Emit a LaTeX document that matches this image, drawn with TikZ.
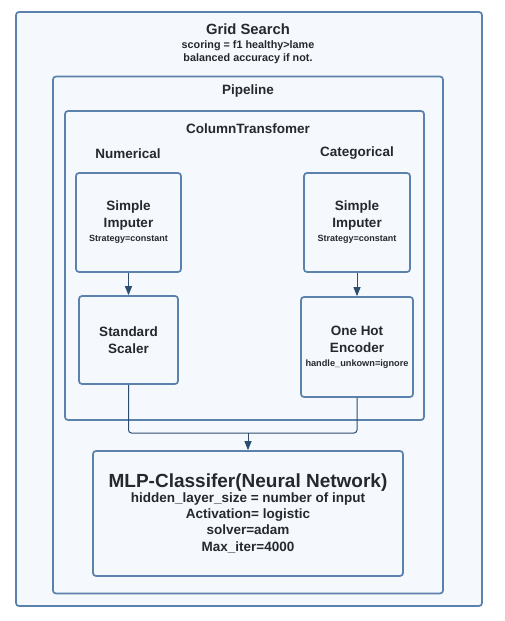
\documentclass[tikz,border=0pt]{standalone}
\usepackage{fontspec}
\setmainfont{Liberation Sans}
\usetikzlibrary{arrows.meta}
\definecolor{boxfill}{HTML}{F5F9FD}
\definecolor{boxline}{HTML}{5B81AD}
\definecolor{txt}{HTML}{25282D}
\definecolor{conn}{HTML}{2D4D70}
\newcommand\szBig{\fontsize{19}{22}\selectfont}
\newcommand\szMid{\fontsize{13.5}{17}\selectfont}
\newcommand\szMlp{\fontsize{13.5}{16.3}\selectfont}
\newcommand\szSmall{\fontsize{9}{13}\selectfont}
\newcommand\szSub{\fontsize{10.8}{13}\selectfont}
\tikzset{
  cont/.style={draw=boxline, fill=boxfill, line width=1.7pt, rounded corners=3pt, inner sep=0pt},
  proc/.style={draw=boxline, fill=boxfill, line width=1.7pt, rounded corners=3pt, inner sep=0pt, align=center, text=txt, font=\bfseries},
  title/.style={text=txt, font=\bfseries, inner sep=0pt, align=center},
  link/.style={draw=conn, line width=1pt, rounded corners=3pt},
  tip/.style={-{Triangle[length=9pt,width=7pt]}}
}
\begin{document}
\begin{tikzpicture}[x=1pt,y=-1pt]
\useasboundingbox (0,0) rectangle (505,621);
\fill[white] (0,0) rectangle (505,621);
% containers
\node[cont, minimum width=466pt, minimum height=594pt] (grid) at (249,309) {};
\node[cont, minimum width=390pt, minimum height=517pt] (pipe) at (248,335) {};
\node[cont, minimum width=359pt, minimum height=309pt] (ct) at (244.5,265.5) {};
% titles
\node[title, font=\fontsize{14.8}{17}\bfseries\selectfont] (gridt) at (248,29) {Grid Search};
\node[title, font=\bfseries\szSub] (gridsub) at (248,52.5) {scoring = f1 healthy>lame\\balanced accuracy if not.};
\node[title, font=\bfseries\szMid] (pipet) at (248,91.5) {Pipeline};
\node[title, font=\bfseries\szMid] (ctt) at (248,129) {ColumnTransfomer};
\node[title, font=\bfseries\szMid] (num) at (128,153.5) {Numerical};
\node[title, font=\bfseries\szMid] (cat) at (357,153.5) {Categorical};
% process boxes
\node[proc, font=\bfseries\szMid, minimum width=105pt, minimum height=99pt] (imp1) at (128.5,222.5)
  {Simple\\Imputer\\[-3pt]\szSmall Strategy=constant};
\node[proc, font=\bfseries\szMid, minimum width=106pt, minimum height=99pt] (imp2) at (357,222.5)
  {Simple\\Imputer\\[-3pt]\szSmall Strategy=constant};
\node[proc, font=\bfseries\szMid, minimum width=99pt, minimum height=88pt] (scal) at (128.5,340)
  {Standard\\Scaler};
\node[proc, font=\bfseries\szMid, minimum width=112pt, minimum height=100pt] (ohe) at (357,347)
  {One Hot\\Encoder\\[-3pt]\fontsize{9.2}{13}\selectfont handle\_unkown=ignore};
\node[proc, font=\bfseries\szMlp, minimum width=310pt, minimum height=125pt] (mlp) at (248,513.5)
  {\szBig MLP-Classifer(Neural Network)\\[-2pt]
   hidden\_layer\_size = number of input\\
   Activation= logistic\\ solver=adam\\ Max\_iter=4000};
% connectors
\coordinate (merge) at (248,433);
\draw[link, tip] (imp1.south) -- (scal.north);
\draw[link, tip] (imp2.south) -- (ohe.north);
\draw[link] (scal.south) |- (merge);
\draw[link] (ohe.south) |- (merge);
\draw[link, tip, rounded corners=0pt] (merge) -- (mlp.north);
\end{tikzpicture}
\end{document}
